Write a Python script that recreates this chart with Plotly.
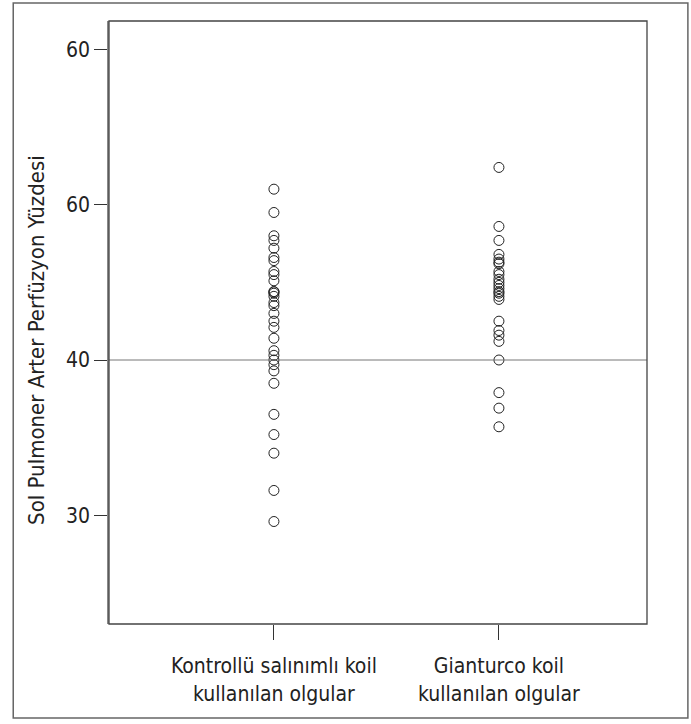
import plotly.graph_objects as go

categories = ["Kontrollü salınımlı koil<br>kullanılan olgular", "Gianturco koil<br>kullanılan olgular"]
group1 = [51.0, 49.5, 48.0, 47.7, 47.2, 46.6, 46.4, 45.7, 45.5, 45.1, 44.4, 44.4, 44.3, 44.1,
          43.7, 43.5, 43.0, 42.5, 42.1, 41.4, 40.6, 40.3, 40.0, 39.7, 39.3, 38.5, 36.5, 35.2,
          34.0, 31.6, 29.6]
group2 = [52.4, 48.6, 47.7, 46.8, 46.5, 46.3, 46.2, 45.7, 45.5, 45.2, 45.0, 44.8, 44.6, 44.4,
          44.3, 44.1, 43.9, 42.5, 41.9, 41.6, 41.2, 40.0, 37.9, 36.9, 35.7]
tick_vals = [30, 40, 50, 60]
tick_text = ["30", "40", "60", "60"]
ref_line = 40
y_title = "Sol Pulmoner Arter Perfüzyon Yüzdesi"

FONT = "DejaVu Sans Condensed, Liberation Sans Narrow, sans-serif"

fig = go.Figure()
for i, vals in enumerate([group1, group2]):
    fig.add_trace(go.Scatter(
        x=[i + 1] * len(vals), y=vals, mode="markers",
        marker=dict(symbol="circle-open", size=10, color="#222", line=dict(width=1, color="#222")),
        showlegend=False, hoverinfo="y"))

fig.add_shape(type="line", xref="paper", yref="y", x0=0, x1=1, y0=ref_line, y1=ref_line,
              line=dict(color="#777", width=1))
# plot frame
fig.add_shape(type="rect", xref="paper", yref="paper", x0=0, x1=1, y0=0, y1=1,
              line=dict(color="#444", width=1.3), layer="above")
# outer frame
fig.add_shape(type="rect", xref="paper", yref="paper", x0=-0.178, x1=1.076, y0=-0.156, y1=1.030,
              line=dict(color="#666", width=1.5))

fig.add_annotation(text=y_title, xref="paper", yref="paper", x=-0.134, y=0.471,
                   textangle=-90, showarrow=False, xanchor="center", yanchor="middle",
                   font=dict(size=22, family=FONT, color="#222"))

fig.update_layout(
    width=691, height=724,
    margin=dict(l=109, r=44, t=21, b=100),
    paper_bgcolor="white", plot_bgcolor="white",
    font=dict(family=FONT, color="#222"),
    xaxis=dict(range=[0.267, 2.658], tickvals=[1, 2], ticktext=categories,
               showgrid=False, zeroline=False, showline=False,
               ticks="outside", ticklen=15, tickcolor="#333", tickwidth=1,
               ticklabelstandoff=8,
               tickfont=dict(size=21, family=FONT, color="#222")),
    yaxis=dict(range=[23.0, 61.83], tickvals=tick_vals, ticktext=tick_text,
               showgrid=False, zeroline=False, showline=True, linecolor="#888", linewidth=1.5,
               ticks="outside", ticklen=13, tickcolor="#333", tickwidth=1,
               tickfont=dict(size=21, family=FONT, color="#222")),
)

fig.write_html("out.html", config={"displayModeBar": False},
               post_script="document.body.style.margin='0';")
